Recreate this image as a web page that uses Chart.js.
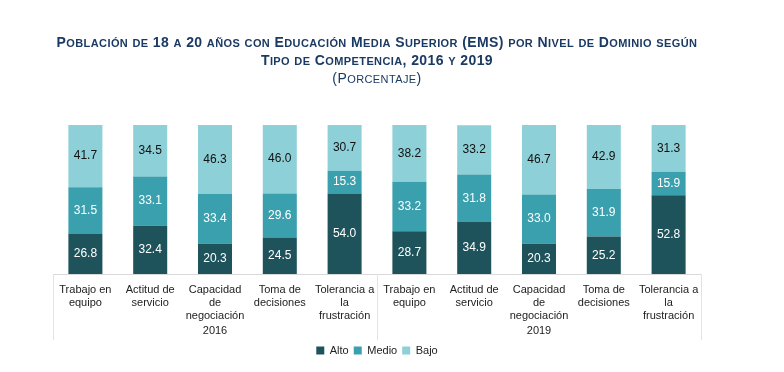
<!DOCTYPE html>
<html>
<head>
<meta charset="utf-8">
<script src="https://cdn.jsdelivr.net/npm/chart.js@4.4.1/dist/chart.umd.min.js"></script>
<style>
  html, body { margin: 0; padding: 0; background: #ffffff; }
  #wrap { position: relative; width: 784px; height: 372px; overflow: hidden; }
  #title {
    position: absolute; left: 0; top: 34px; width: 754px; text-align: center;
    font-family: "Liberation Sans", Arial, sans-serif; color: #1b3a63;
    font-size: 14px; line-height: 17px; letter-spacing: 0.4px;
  }
  #title .b { font-weight: bold; }
  #title .sc { font-size: 11px; text-transform: uppercase; }
  canvas { position: absolute; left: 0; top: 0; }
</style>
</head>
<body>
<div id="wrap">
  <canvas id="c" width="784" height="372"></canvas>
  <div id="title">
    <div class="b smallcaps">Población de 18 a 20 años con Educación Media Superior (EMS) por Nivel de Dominio según</div>
    <div class="b smallcaps">Tipo de Competencia, 2016 y 2019</div>
    <div class="smallcaps">(Porcentaje)</div>
  </div>
</div>
<script>
// ---- Data ----
const categories = [
  ["Trabajo en", "equipo"],
  ["Actitud de", "servicio"],
  ["Capacidad", "de", "negociación"],
  ["Toma de", "decisiones"],
  ["Tolerancia a", "la", "frustración"],
  ["Trabajo en", "equipo"],
  ["Actitud de", "servicio"],
  ["Capacidad", "de", "negociación"],
  ["Toma de", "decisiones"],
  ["Tolerancia a", "la", "frustración"]
];
const years = ["2016", "2019"];
const groupSize = 5;
const seriesNames = ["Alto", "Medio", "Bajo"];
const alto  = [26.8, 32.4, 20.3, 24.5, 54.0, 28.7, 34.9, 20.3, 25.2, 52.8];
const medio = [31.5, 33.1, 33.4, 29.6, 15.3, 33.2, 31.8, 33.0, 31.9, 15.9];
const bajo  = [41.7, 34.5, 46.3, 46.0, 30.7, 38.2, 33.2, 46.7, 42.9, 31.3];

// small caps: wrap lowercase runs in spans (text stays the original text)
document.querySelectorAll('.smallcaps').forEach(el => {
  const txt = el.textContent;
  el.textContent = '';
  const re = /([a-záéíóúñü]+)|([^a-záéíóúñü]+)/g;
  let m;
  while ((m = re.exec(txt)) !== null) {
    if (m[1]) {
      const s = document.createElement('span');
      s.className = 'sc';
      s.textContent = m[1];
      el.appendChild(s);
    } else {
      el.appendChild(document.createTextNode(m[2]));
    }
  }
});

const colors = ["#1e535c", "#3aa0ae", "#8dd0d8"];
const labelColors = ["#ffffff", "#ffffff", "#111111"];
const FONT = '"Liberation Sans", Arial, sans-serif';

const dataLabelPlugin = {
  id: 'dataLabels',
  afterDatasetsDraw(chart) {
    const ctx = chart.ctx;
    ctx.save();
    ctx.font = '12px ' + FONT;
    ctx.textAlign = 'center';
    ctx.textBaseline = 'middle';
    chart.data.datasets.forEach((ds, di) => {
      const meta = chart.getDatasetMeta(di);
      meta.data.forEach((bar, i) => {
        const v = ds.data[i];
        const y = (bar.y + bar.base) / 2;
        ctx.fillStyle = labelColors[di];
        ctx.fillText(v.toFixed(1), bar.x, y);
      });
    });
    ctx.restore();
  }
};

const groupPlugin = {
  id: 'groups',
  afterDraw(chart) {
    const ctx = chart.ctx;
    const xs = chart.scales.x;
    const top = chart.chartArea.bottom;
    const bottom = top + 66;
    const step = (xs.right - xs.left) / categories.length;
    ctx.save();
    ctx.strokeStyle = '#e3e3e3';
    ctx.lineWidth = 1;
    for (let g = 0; g <= years.length; g++) {
      const x = Math.round(xs.left + g * groupSize * step) + 0.5;
      ctx.beginPath();
      ctx.moveTo(x, top);
      ctx.lineTo(x, bottom);
      ctx.stroke();
    }
    ctx.fillStyle = '#222222';
    ctx.font = '11px ' + FONT;
    ctx.textAlign = 'center';
    ctx.textBaseline = 'middle';
    years.forEach((y, g) => {
      const cx = xs.left + (g * groupSize + groupSize / 2) * step;
      ctx.fillText(y, cx, top + 57);
    });
    ctx.restore();
  }
};

new Chart(document.getElementById('c'), {
  type: 'bar',
  data: {
    labels: categories,
    datasets: [
      { label: seriesNames[0], data: alto,  backgroundColor: colors[0] },
      { label: seriesNames[1], data: medio, backgroundColor: colors[1] },
      { label: seriesNames[2], data: bajo,  backgroundColor: colors[2] }
    ]
  },
  options: {
    responsive: false,
    animation: false,
    layout: { padding: { left: 53, right: 83, top: 125, bottom: 6 } },
    datasets: { bar: { categoryPercentage: 1, barPercentage: 0.525, borderWidth: 0 } },
    scales: {
      x: {
        stacked: true,
        grid: { display: false },
        border: { display: true, color: '#d9d9d9', width: 1 },
        ticks: {
          color: '#222222', font: { family: FONT, size: 11, lineHeight: 1.15 }, padding: 2,
          maxRotation: 0, autoSkip: false
        },
        afterFit(scale) { scale.height = 66; }
      },
      y: {
        stacked: true, display: false, min: 0, max: 100
      }
    },
    plugins: {
      legend: {
        position: 'bottom',
        labels: {
          color: '#222222', font: { family: FONT, size: 11 },
          boxWidth: 8, boxHeight: 8, padding: 5
        }
      },
      tooltip: { enabled: false },
      title: { display: false }
    }
  },
  plugins: [dataLabelPlugin, groupPlugin]
});
</script>
</body>
</html>
